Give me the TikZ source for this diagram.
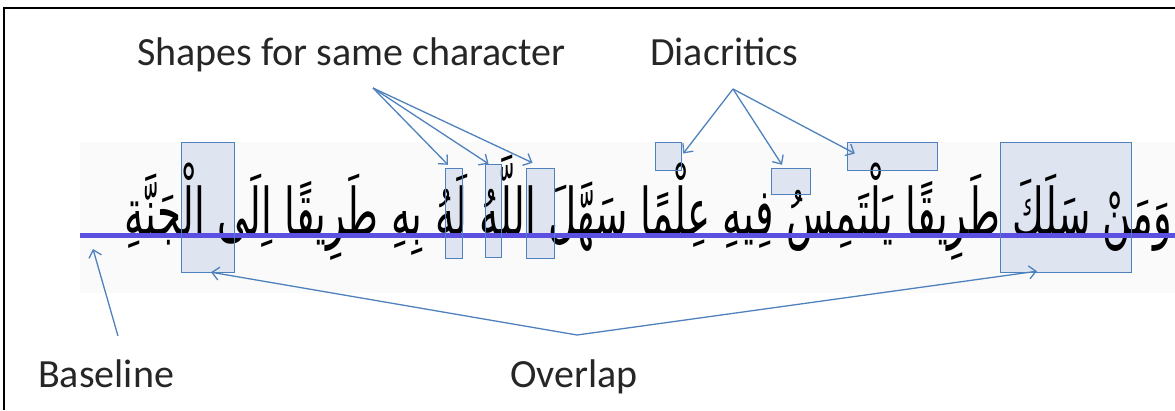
\documentclass[tikz,border=0pt]{standalone}
\usepackage{fontspec}
\usepackage{graphicx}
\setmainfont{Carlito}
\newfontfamily\arabicfont[Script=Arabic]{DejaVu Sans}
\TeXXeTstate=1
\usetikzlibrary{arrows.meta}
\definecolor{arrowblue}{RGB}{79,129,189}
\definecolor{boxfill}{RGB}{222,228,240}
\definecolor{baseblue}{RGB}{92,80,226}
\tikzset{
  lbl/.style={font=\fontsize{40}{48}\selectfont, text=black!85, inner sep=0pt, anchor=base west},
  hl/.style={fill=boxfill, inner sep=0pt},
  hledge/.style={draw=arrowblue, line width=1.2pt},
  pointer/.style={draw=arrowblue, line width=1.3pt, -{Straight Barb[length=7pt,width=13pt,line width=1.3pt]}},
}
\begin{document}
\begin{tikzpicture}[x=1pt,y=-1pt]
\useasboundingbox (0,0) rectangle (1175,410);
% frame
\draw[line width=1.5pt] (4,410) -- (4,8) -- (1175,8);
% faint background of the script image
\fill[black!2] (80,142) rectangle (1175,293);
% highlight boxes (fills, behind the script)
\node[hl, minimum width=52pt, minimum height=129pt] (oL) at (208,207.5) {};
\node[hl, minimum width=16pt, minimum height=89pt] (s1) at (454,213.5) {};
\node[hl, minimum width=15pt, minimum height=92pt] (s2) at (493.5,211) {};
\node[hl, minimum width=27pt, minimum height=89pt] (s3) at (540.5,213.5) {};
\node[hl, minimum width=25pt, minimum height=27pt] (d1) at (668.5,156.5) {};
\node[hl, minimum width=38pt, minimum height=25pt] (d2) at (791,181.5) {};
\node[hl, minimum width=89pt, minimum height=27pt] (d3) at (892.5,156.5) {};
\node[hl, minimum width=130pt, minimum height=129pt] (oR) at (1066,207.5) {};
% Arabic line
\node[inner sep=0pt, anchor=base east] (script) at (1172,235)
  {\resizebox{1047pt}{80pt}{\arabicfont\beginR وَمَنْ سَلَكَ طَرِيقًا يَلْتَمِسُ فِيهِ عِلْمًا سَهَّلَ اللَّهُ لَهُ بِهِ طَرِيقًا اِلَى الْجَنَّةِ\endR}};
% baseline
\draw[baseblue, line width=5pt] (80,235) -- (1175,235);
% highlight box outlines
\foreach \b in {oL,s1,s2,s3,d1,d2,d3,oR}
  \draw[hledge] (\b.north west) rectangle (\b.south east);
% labels
\node[lbl] (shapes) at (137,65) {Shapes for same character};
\node[lbl] (diac) at (650,65) {Diacritics};
\node[lbl] (base) at (38,387) {Baseline};
\node[lbl] (over) at (510,387) {Overlap};
% connector points
\coordinate (sApex) at (373,88);
\coordinate (dApex) at (733,89);
\coordinate (oApex) at (577,335);
\coordinate (bFrom) at (118,336);
\coordinate (bTo) at (93,249);
% connectors
\draw[pointer] (sApex) -- ([xshift=-6pt,yshift=4pt]s1.north);
\draw[pointer] (sApex) -- ([xshift=-5pt,yshift=1pt]s2.north);
\draw[pointer] (sApex) -- ([xshift=-8pt,yshift=6pt]s3.north);
\draw[pointer] (dApex) -- ([xshift=2pt,yshift=3pt]d1.east);
\draw[pointer] (dApex) -- ([xshift=-9pt,yshift=4pt]d2.north);
\draw[pointer] (dApex) -- ([xshift=7pt,yshift=3pt]d3.west);
\draw[pointer] (oApex) -- ([xshift=3pt]oL.south);
\draw[pointer] (oApex) -- ([xshift=-29pt,yshift=1pt]oR.south);
\draw[pointer] (bFrom) -- (bTo);
\end{tikzpicture}
\end{document}
